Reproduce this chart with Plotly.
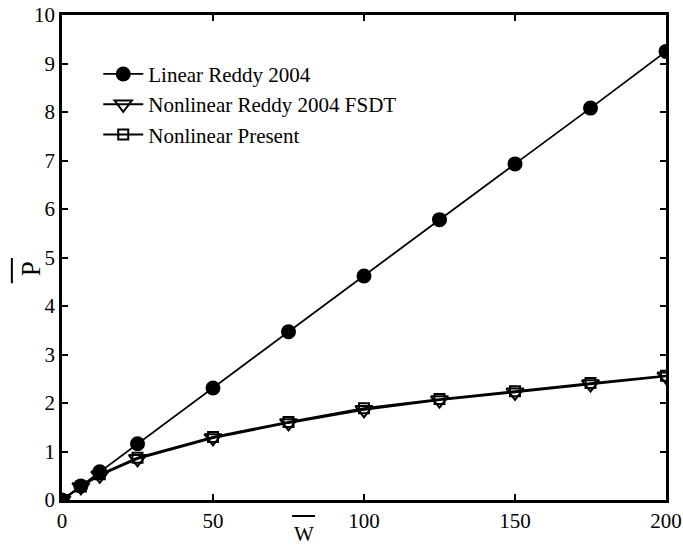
import plotly.graph_objects as go

# Normalised deflection W and load parameter P
w = [0, 6.25, 12.5, 25, 50, 75, 100, 125, 150, 175, 200]
p_linear = [0, 0.29, 0.58, 1.16, 2.31, 3.47, 4.62, 5.78, 6.93, 8.08, 9.25]
p_reddy_fsdt = [0, 0.27, 0.51, 0.85, 1.28, 1.59, 1.86, 2.06, 2.22, 2.39, 2.55]
p_present = [0, 0.28, 0.53, 0.87, 1.30, 1.61, 1.89, 2.08, 2.24, 2.41, 2.56]

x_ticks = [0, 50, 100, 150, 200]
y_ticks = list(range(0, 11))

serif = "Liberation Serif, Times New Roman, serif"

fig = go.Figure()
fig.add_trace(go.Scatter(
    x=w, y=p_linear, mode="lines+markers", name="Linear Reddy 2004",
    line=dict(color="black", width=1.8),
    marker=dict(symbol="circle", size=15, color="black"),
))
fig.add_trace(go.Scatter(
    x=w, y=p_reddy_fsdt, mode="lines+markers", name="Nonlinear Reddy 2004 FSDT",
    line=dict(color="black", width=2),
    marker=dict(symbol="triangle-down-open", size=15, color="black",
                line=dict(width=2, color="black")),
))
fig.add_trace(go.Scatter(
    x=w, y=p_present, mode="lines+markers", name="Nonlinear Present",
    line=dict(color="black", width=2),
    marker=dict(symbol="square-open", size=10, color="black",
                line=dict(width=2, color="black")),
))

axis_common = dict(
    showgrid=False, zeroline=False, showline=True, mirror="ticks",
    linecolor="black", linewidth=2.5, automargin=False,
    ticks="inside", ticklen=6, tickwidth=1.5, tickcolor="black",
    tickfont=dict(family=serif, size=21, color="black"),
)
fig.update_xaxes(range=[0, 200], tickvals=x_ticks, ticklabelstandoff=0, **axis_common)
fig.update_yaxes(range=[0, 10], tickvals=y_ticks, ticklabelstandoff=0, **axis_common)

# Axis titles with overbars
fig.add_annotation(text="P", xref="paper", yref="paper", x=-0.051, y=0.476,
                   xanchor="center", yanchor="middle",
                   textangle=-90, showarrow=False,
                   font=dict(family=serif, size=27, color="black"))
fig.add_shape(type="line", xref="paper", yref="paper",
              x0=-0.083, x1=-0.083, y0=0.447, y1=0.499,
              line=dict(color="black", width=2))
fig.add_annotation(text="W", xref="paper", yref="paper", x=0.40, y=-0.071,
                   xanchor="center", yanchor="middle", showarrow=False,
                   font=dict(family=serif, size=21, color="black"))
fig.add_shape(type="line", xref="paper", yref="paper",
              x0=0.381, x1=0.419, y0=-0.033, y1=-0.033,
              line=dict(color="black", width=2))

fig.update_layout(
    width=683, height=546,
    margin=dict(l=62, r=17, t=15, b=46),
    paper_bgcolor="white", plot_bgcolor="white",
    showlegend=True,
    legend=dict(x=0.06, y=0.92, xanchor="left", yanchor="top",
                bgcolor="rgba(0,0,0,0)", borderwidth=0,
                font=dict(family=serif, size=21, color="black"),
                tracegroupgap=0, itemwidth=40),
)

fig.write_html("out.html")
